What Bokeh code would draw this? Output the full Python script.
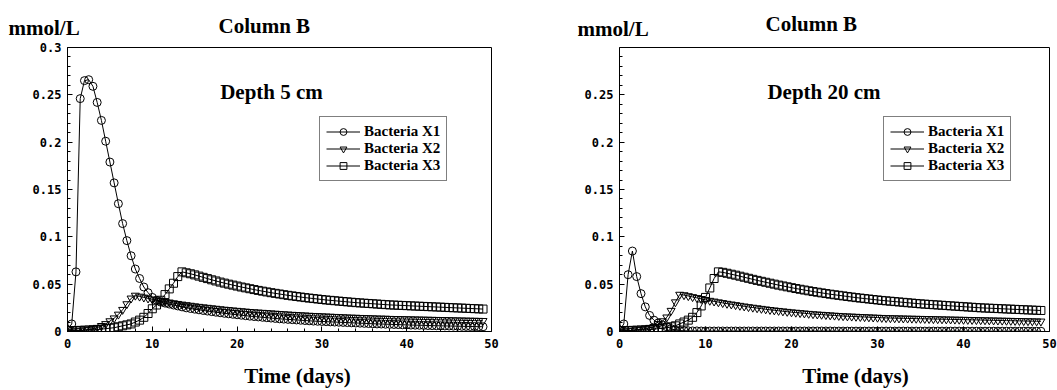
import numpy as np
from bokeh.plotting import figure
from bokeh.models import Label, Legend, LegendItem, FixedTicker, Range1d
from bokeh.layouts import row, column
from bokeh.embed import file_html
from bokeh.resources import INLINE

# time grid (days), 0.5-day steps
time_days = list(np.arange(0, 49.5, 0.5))

# ---- Depth 5 cm ----
d5_x1 = [0.002, 0.008, 0.063, 0.246, 0.265, 0.266, 0.259, 0.242, 0.223, 0.201,
         0.179, 0.157, 0.135, 0.114, 0.096, 0.080, 0.066, 0.056, 0.047, 0.041,
         0.036, 0.033, 0.031, 0.030, 0.029, 0.028, 0.027, 0.026, 0.025, 0.0243,
         0.0236, 0.0229, 0.0222, 0.0216, 0.0210, 0.0204, 0.0198, 0.0192, 0.0187, 0.0182,
         0.0177, 0.0172, 0.0167, 0.0162, 0.0158, 0.0154, 0.0150, 0.0146, 0.0142, 0.0138,
         0.0134, 0.0131, 0.0128, 0.0125, 0.0122, 0.0119, 0.0116, 0.0113, 0.0110, 0.0108,
         0.0106, 0.0104, 0.0102, 0.0100, 0.0098, 0.0096, 0.0094, 0.0092, 0.0090, 0.0088,
         0.0086, 0.0084, 0.0082, 0.0080, 0.0079, 0.0077, 0.0076, 0.0074, 0.0073, 0.0071,
         0.0070, 0.0068, 0.0067, 0.0066, 0.0065, 0.0063, 0.0062, 0.0061, 0.0060, 0.0059,
         0.0058, 0.0057, 0.0056, 0.0055, 0.0054, 0.0053, 0.0052, 0.0051, 0.0050]
d5_x2 = [0.000, 0.000, 0.001, 0.001, 0.0015, 0.002, 0.003, 0.004, 0.006, 0.008,
         0.011, 0.014, 0.018, 0.023, 0.029, 0.035, 0.038, 0.037, 0.036, 0.035,
         0.034, 0.0332, 0.0324, 0.0316, 0.0308, 0.0300, 0.0293, 0.0286, 0.0280, 0.0274,
         0.0268, 0.0262, 0.0257, 0.0252, 0.0247, 0.0242, 0.0237, 0.0232, 0.0228, 0.0224,
         0.0220, 0.0216, 0.0212, 0.0208, 0.0205, 0.0202, 0.0199, 0.0196, 0.0193, 0.0190,
         0.0187, 0.0184, 0.0181, 0.0178, 0.0176, 0.0173, 0.0171, 0.0168, 0.0166, 0.0164,
         0.0162, 0.0160, 0.0158, 0.0156, 0.0154, 0.0152, 0.0150, 0.0148, 0.0147, 0.0145,
         0.0144, 0.0142, 0.0141, 0.0139, 0.0138, 0.0137, 0.0135, 0.0134, 0.0133, 0.0132,
         0.0131, 0.0130, 0.0129, 0.0128, 0.0127, 0.0126, 0.0125, 0.0124, 0.0123, 0.0122,
         0.0121, 0.0120, 0.0119, 0.0118, 0.0117, 0.0116, 0.0115, 0.0114, 0.0113]
d5_x3 = [0.001, 0.001, 0.001, 0.0012, 0.0014, 0.0016, 0.0018, 0.002, 0.0025, 0.003,
         0.0035, 0.004, 0.005, 0.006, 0.007, 0.008, 0.010, 0.012, 0.015, 0.019,
         0.024, 0.028, 0.033, 0.039, 0.045, 0.051, 0.058, 0.063, 0.0620, 0.0610,
         0.0598, 0.0585, 0.0572, 0.0559, 0.0546, 0.0534, 0.0522, 0.0511, 0.0500, 0.0490,
         0.0480, 0.0470, 0.0461, 0.0452, 0.0443, 0.0434, 0.0426, 0.0418, 0.0410, 0.0403,
         0.0396, 0.0389, 0.0382, 0.0376, 0.0370, 0.0364, 0.0358, 0.0353, 0.0348, 0.0343,
         0.0338, 0.0333, 0.0329, 0.0325, 0.0321, 0.0317, 0.0313, 0.0309, 0.0305, 0.0302,
         0.0299, 0.0296, 0.0293, 0.0290, 0.0287, 0.0284, 0.0281, 0.0279, 0.0277, 0.0275,
         0.0273, 0.0271, 0.0269, 0.0267, 0.0265, 0.0263, 0.0261, 0.0259, 0.0257, 0.0255,
         0.0253, 0.0251, 0.0249, 0.0247, 0.0245, 0.0243, 0.0241, 0.0239, 0.0237]

# ---- Depth 20 cm ----
d20_x1 = [0.001, 0.008, 0.060, 0.085, 0.058, 0.040, 0.026, 0.017, 0.012, 0.009,
          0.007, 0.005, 0.003, 0.0015, 0.001, 0.0008, 0.0007, 0.0006, 0.0006, 0.0005,
          0.0005, 0.0005, 0.0005, 0.0005, 0.0005, 0.0005, 0.0005, 0.0005, 0.0005, 0.0005,
          0.0005, 0.0005, 0.0005, 0.0005, 0.0005, 0.0005, 0.0005, 0.0005, 0.0005, 0.0005,
          0.0005, 0.0005, 0.0005, 0.0005, 0.0005, 0.0005, 0.0005, 0.0005, 0.0005, 0.0005,
          0.0004, 0.0004, 0.0004, 0.0004, 0.0004, 0.0004, 0.0004, 0.0004, 0.0004, 0.0004,
          0.0004, 0.0004, 0.0004, 0.0004, 0.0004, 0.0004, 0.0004, 0.0004, 0.0004, 0.0004,
          0.0004, 0.0004, 0.0004, 0.0004, 0.0004, 0.0004, 0.0004, 0.0004, 0.0004, 0.0004,
          0.0003, 0.0003, 0.0003, 0.0003, 0.0003, 0.0003, 0.0003, 0.0003, 0.0003, 0.0003,
          0.0003, 0.0003, 0.0003, 0.0003, 0.0003, 0.0003, 0.0003, 0.0003, 0.0003]
d20_x2 = [0.000, 0.000, 0.001, 0.001, 0.002, 0.002, 0.003, 0.004, 0.005, 0.008,
          0.011, 0.015, 0.022, 0.031, 0.039, 0.0385, 0.0375, 0.0365, 0.0355, 0.0345,
          0.0335, 0.0326, 0.0318, 0.0310, 0.0302, 0.0294, 0.0287, 0.0280, 0.0273, 0.0266,
          0.0259, 0.0253, 0.0247, 0.0241, 0.0235, 0.0229, 0.0224, 0.0219, 0.0214, 0.0209,
          0.0204, 0.0200, 0.0196, 0.0192, 0.0188, 0.0184, 0.0181, 0.0178, 0.0175, 0.0172,
          0.0169, 0.0166, 0.0163, 0.0161, 0.0159, 0.0157, 0.0155, 0.0153, 0.0151, 0.0149,
          0.0147, 0.0145, 0.0143, 0.0142, 0.0141, 0.0140, 0.0139, 0.0138, 0.0137, 0.0136,
          0.0135, 0.0134, 0.0133, 0.0132, 0.0131, 0.0130, 0.0129, 0.0128, 0.0127, 0.0126,
          0.0125, 0.0124, 0.0123, 0.0122, 0.0121, 0.0120, 0.0119, 0.0118, 0.0117, 0.0116,
          0.0115, 0.0114, 0.0113, 0.0112, 0.0111, 0.0110, 0.0109, 0.0108, 0.0107]
d20_x3 = [0.001, 0.001, 0.001, 0.0012, 0.0014, 0.0016, 0.0018, 0.002, 0.0025, 0.003,
          0.0035, 0.004, 0.005, 0.006, 0.008, 0.010, 0.012, 0.015, 0.020, 0.027,
          0.036, 0.046, 0.056, 0.063, 0.0625, 0.0615, 0.0605, 0.0595, 0.0584, 0.0573,
          0.0562, 0.0551, 0.0540, 0.0530, 0.0520, 0.0510, 0.0500, 0.0490, 0.0481, 0.0472,
          0.0463, 0.0454, 0.0446, 0.0438, 0.0430, 0.0422, 0.0415, 0.0408, 0.0401, 0.0394,
          0.0388, 0.0382, 0.0376, 0.0370, 0.0364, 0.0358, 0.0353, 0.0348, 0.0343, 0.0338,
          0.0333, 0.0328, 0.0324, 0.0320, 0.0316, 0.0312, 0.0308, 0.0304, 0.0300, 0.0296,
          0.0292, 0.0289, 0.0286, 0.0283, 0.0280, 0.0277, 0.0274, 0.0271, 0.0268, 0.0265,
          0.0262, 0.0259, 0.0256, 0.0253, 0.0250, 0.0248, 0.0246, 0.0244, 0.0242, 0.0240,
          0.0238, 0.0236, 0.0234, 0.0232, 0.0230, 0.0228, 0.0226, 0.0224, 0.0222]

series_names = ["Bacteria X1", "Bacteria X2", "Bacteria X3"]
series_markers = ["circle", "inverted_triangle", "square"]

x_ticks = [0, 10, 20, 30, 40, 50]
x_minor = [2, 4, 6, 8, 12, 14, 16, 18, 22, 24, 26, 28, 32, 34, 36, 38, 42, 44, 46, 48]
y_minor = [0.01, 0.02, 0.03, 0.04, 0.06, 0.07, 0.08, 0.09, 0.11, 0.12, 0.13, 0.14,
           0.16, 0.17, 0.18, 0.19, 0.21, 0.22, 0.23, 0.24, 0.26, 0.27, 0.28, 0.29]
y_ticks_left = [0, 0.05, 0.1, 0.15, 0.2, 0.25, 0.3]
y_ticks_right = [0, 0.05, 0.1, 0.15, 0.2, 0.25]
y_labels = {0: "0", 0.05: "0.05", 0.1: "0.1", 0.15: "0.15", 0.2: "0.2", 0.25: "0.25", 0.3: "0.3"}

SERIF = "Liberation Serif"
TICKF = "DejaVu Sans Mono"
HEAD_H = 40
FOOT_H = 35
MAIN_H = 390 - HEAD_H - FOOT_H


def no_align(fig):
    try:
        fig.frame_align = False
    except Exception:
        pass


def style_axis(ax):
    ax.axis_line_color = "black"
    ax.major_tick_line_color = "black"
    ax.minor_tick_line_color = "black"
    ax.major_tick_in = 5
    ax.major_tick_out = 0
    ax.minor_tick_in = 3
    ax.minor_tick_out = 0
    ax.major_label_text_font = TICKF
    ax.major_label_text_font_style = "bold"
    ax.major_label_text_color = "black"
    ax.major_label_text_font_size = "12px"


def text_strip(width, height, texts):
    s = figure(width=width, height=height, output_backend="svg", toolbar_location=None,
               x_range=Range1d(0, width), y_range=Range1d(0, height),
               x_axis_type=None, y_axis_type=None,
               min_border_left=0, min_border_right=0, min_border_top=0, min_border_bottom=0)
    no_align(s)
    s.xgrid.visible = False
    s.ygrid.visible = False
    s.outline_line_color = None
    s.background_fill_color = "white"
    s.border_fill_color = "white"
    for (x, y, t, align) in texts:
        s.add_layout(Label(x=x, y=y, text=t, text_font=SERIF, text_font_style="bold",
                           text_font_size="21px", text_color="black",
                           text_align=align, text_baseline="middle"))
    return s


def make_panel(width, bl, br, ys, yt_major, depth_text, depth_pos, legend_loc):
    p = figure(width=width, height=MAIN_H, output_backend="svg", toolbar_location=None,
               x_range=Range1d(0, 50), y_range=Range1d(0, 0.3),
               min_border_left=bl, min_border_right=br, min_border_top=7, min_border_bottom=24)
    no_align(p)
    p.xgrid.visible = False
    p.ygrid.visible = False
    p.outline_line_color = "black"
    p.outline_line_width = 1
    p.background_fill_color = "white"
    p.border_fill_color = "white"

    p.xaxis.ticker = FixedTicker(ticks=x_ticks, minor_ticks=x_minor)
    p.yaxis.ticker = FixedTicker(ticks=yt_major, minor_ticks=y_minor)
    style_axis(p.xaxis[0])
    style_axis(p.yaxis[0])
    p.xaxis.major_label_standoff = 7
    p.yaxis.major_label_standoff = 6
    p.yaxis.major_label_overrides = {k: v for k, v in y_labels.items() if k in yt_major}

    items = []
    for name, mk, yv in zip(series_names, series_markers, ys):
        ln = p.line(time_days, yv, line_color="black", line_width=1)
        sc = p.scatter(time_days, yv, marker=mk, size=8, fill_color=None,
                       line_color="black", line_width=1)
        items.append(LegendItem(label=name, renderers=[ln, sc]))

    leg = Legend(items=items, location=legend_loc, margin=0, padding=6, spacing=0,
                 glyph_width=34, glyph_height=17, label_height=17, label_standoff=4,
                 label_text_font=SERIF, label_text_font_style="bold",
                 label_text_font_size="15px", label_text_color="black",
                 border_line_color="black", border_line_width=1,
                 background_fill_color="white", background_fill_alpha=1)
    p.add_layout(leg)

    p.add_layout(Label(x=depth_pos[0], y=depth_pos[1], text=depth_text, text_font=SERIF,
                       text_font_style="bold", text_font_size="21px", text_color="black",
                       text_align="left", text_baseline="middle"))
    return p


W1, W2 = 540, 517
p1 = make_panel(W1, 67, 49, [d5_x1, d5_x2, d5_x3], y_ticks_left, "Depth 5 cm", (18.0, 0.2535), (252, 150))
p2 = make_panel(W2, 79, 8, [d20_x1, d20_x2, d20_x3], y_ticks_right, "Depth 20 cm", (17.2, 0.2525), (264, 150))

h1 = text_strip(W1, HEAD_H, [(8, 13, "mmol/L", "left"), (218, 15, "Column B", "left")])
h2 = text_strip(W2, HEAD_H, [(37, 12, "mmol/L", "left"), (225, 17, "Column B", "left")])
f1 = text_strip(W1, FOOT_H, [(297, 15, "Time (days)", "center")])
f2 = text_strip(W2, FOOT_H, [(315, 15, "Time (days)", "center")])

layout = row(column(h1, p1, f1, spacing=0), column(h2, p2, f2, spacing=0), spacing=0)
open("out.html", "w").write(file_html(layout, INLINE))
